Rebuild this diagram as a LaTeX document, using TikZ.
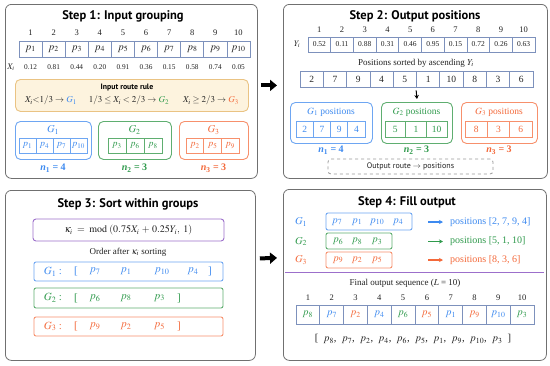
\documentclass[tikz,border=0pt]{standalone}
\usepackage{mathptmx}
\usepackage{fontspec}
\setmainfont{Liberation Serif}
\newfontfamily\titlefont{PT Sans}
\usetikzlibrary{arrows.meta,calc}
\definecolor{cblue}{HTML}{3D8AF0}
\definecolor{cgreen}{HTML}{2F9A4C}
\definecolor{corange}{HTML}{F4693A}
\definecolor{bblue}{HTML}{6EA6F2}
\definecolor{bgreen}{HTML}{5FAE70}
\definecolor{borange}{HTML}{F7906C}
\definecolor{cellc}{HTML}{7D91BC}
\definecolor{panelc}{HTML}{707070}
\definecolor{rulefill}{HTML}{FDF3DE}
\definecolor{ruledraw}{HTML}{EAC383}
\definecolor{cpurple}{HTML}{9C6FCB}
\definecolor{txt}{HTML}{222222}
\newcommand\rbox[5]{\node[#1, anchor=north west, minimum width=#4pt, minimum height=#5pt, inner sep=0pt] (#2) at (#3) {};}
\begin{document}
\begin{tikzpicture}[x=1pt,y=-1pt, text=txt,
  font=\fontsize{9.5}{10}\selectfont,
  panel/.style={draw=panelc, line width=0.8pt, rounded corners=6pt, fill=white},
  title/.style={font=\titlefont\bfseries\fontsize{12.5}{14}\selectfont, text=black},
  cell/.style={draw=cellc, line width=0.7pt, inner sep=0pt},
  idx/.style={font=\fontsize{8.5}{9}\selectfont, inner sep=0pt},
  val/.style={font=\fontsize{7.3}{8}\selectfont, inner sep=0pt},
  gbox/.style={draw=#1, line width=0.9pt, rounded corners=5pt, fill=white},
  nlab/.style={font=\fontsize{10}{11}\selectfont\bfseries, inner sep=0pt},
  rowbox/.style={draw=#1, line width=0.9pt, rounded corners=2pt, fill=white},
  bigarrow/.style={line width=4pt, -{Triangle[length=7pt,width=11pt]}},
  smarrow/.style={line width=1.2pt, -{Stealth[length=4pt,width=4pt]}, shorten >=7pt}
]
\useasboundingbox (0,0) rectangle (550,365);

% ---------------- Panel 1
\rbox{panel}{P1}{5,4}{252}{174}
\node[title] (T1) at (123,16) {Step 1: Input grouping};
\foreach \v [count=\i] in {0.12,0.81,0.44,0.20,0.91,0.36,0.15,0.58,0.74,0.05} {
  \node[cell, minimum width=23.1pt, minimum height=16pt, font=\fontsize{10.5}{11}\selectfont] (a\i) at ({19+(\i-0.5)*23.1},49) {$p_{\i}$};
  \node[idx] (ai\i) at (a\i |- 0,33) {\i};
  \node[val] (av\i) at (a\i |- 0,67) {\v};
}
\node[font=\fontsize{8.5}{9}\selectfont, inner sep=0pt] (xl) at (11,67) {$X_i$};
\rbox{fill=rulefill, draw=ruledraw, line width=0.9pt, rounded corners=5pt}{R}{15,79}{233}{32}
\node[font=\titlefont\bfseries\fontsize{7.8}{8}\selectfont, text=black] (rt) at (127,88) {Input route rule};
\node[font=\fontsize{9}{9}\selectfont] (r1) at (51,100.5) {$X_i{<}1/3 \rightarrow$ \textcolor{cblue}{$G_1$}};
\node[font=\fontsize{9}{9}\selectfont] (r2) at (129,100.5) {$1/3 \le X_i < 2/3 \rightarrow$ \textcolor{cgreen}{$G_2$}};
\node[font=\fontsize{9}{9}\selectfont] (r3) at (211,100.5) {$X_i \ge 2/3 \rightarrow$ \textcolor{corange}{$G_3$}};
% groups
\rbox{gbox=bblue}{GA}{15,121}{76}{38}
\rbox{gbox=bgreen}{GB}{98,121}{73}{38}
\rbox{gbox=borange}{GC}{179,121}{69}{38}
\node[text=cblue, font=\fontsize{10.5}{11}\selectfont] (GAl) at (53,130) {$G_1$};
\node[text=cgreen, font=\fontsize{10.5}{11}\selectfont] (GBl) at (134.5,130) {$G_2$};
\node[text=corange, font=\fontsize{10.5}{11}\selectfont] (GCl) at (213.5,130) {$G_3$};
\foreach \t [count=\i] in {1,4,7,10}
  \node[cell, draw=bblue, text=cblue, minimum width=17pt, minimum height=15pt] (ga\i) at ({19+(\i-0.5)*17},145.5) {$p_{\t}$};
\foreach \t [count=\i] in {3,6,8}
  \node[cell, draw=bgreen, text=cgreen, minimum width=18pt, minimum height=15pt] (gb\i) at ({108+(\i-0.5)*18},145.5) {$p_{\t}$};
\foreach \t [count=\i] in {2,5,9}
  \node[cell, draw=borange, text=corange, minimum width=17.7pt, minimum height=15pt] (gc\i) at ({186+(\i-0.5)*17.7},145.5) {$p_{\t}$};
\node[nlab, text=cblue] (na) at (53,168) {\textit{n}\textsubscript{1} = 4};
\node[nlab, text=cgreen] (nb) at (134.5,168) {\textit{n}\textsubscript{2} = 3};
\node[nlab, text=corange] (nc) at (213.5,168) {\textit{n}\textsubscript{3} = 3};

% ---------------- Panel 2
\rbox{panel}{P2}{283,4}{264}{174}
\node[title] (T2) at (415,16) {Step 2: Output positions};
\foreach \v [count=\i] in {0.52,0.11,0.88,0.31,0.46,0.95,0.15,0.72,0.26,0.63} {
  \node[cell, minimum width=22.7pt, minimum height=15pt, font=\fontsize{7.5}{8}\selectfont] (y\i) at ({308+(\i-0.5)*22.7},44.5) {\v};
  \node[idx] (yi\i) at (y\i |- 0,30) {\i};
}
\node[font=\fontsize{8.5}{9}\selectfont] (yl) at (297,44.5) {$Y_i$};
\node[font=\fontsize{9}{9}\selectfont] (sl) at (416,63) {Positions sorted by ascending $Y_i$};
\foreach \v [count=\i] in {2,7,9,4,5,1,10,8,3,6}
  \node[cell, minimum width=23.3pt, minimum height=16pt] (s\i) at ({300+(\i-0.5)*23.3},79) {\v};
\rbox{gbox=bblue}{HA}{290,102}{82}{41}
\rbox{gbox=bgreen}{HB}{381,102}{71}{41}
\rbox{gbox=borange}{HC}{461,102}{76}{41}
\draw[line width=1pt, -{Stealth[length=4pt,width=4.5pt]}] ([yshift=-3pt]s6.south west) -- ([yshift=3pt]HB.north);
\node[text=cblue, font=\fontsize{9.5}{10}\selectfont] (HAl) at (331,112) {$G_1$ positions};
\node[text=cgreen, font=\fontsize{9.5}{10}\selectfont] (HBl) at (416.5,112) {$G_2$ positions};
\node[text=corange, font=\fontsize{9.5}{10}\selectfont] (HCl) at (499,112) {$G_3$ positions};
\foreach \t [count=\i] in {2,7,9,4}
  \node[cell, draw=bblue, text=cblue, minimum width=17.25pt, minimum height=16pt] (ha\i) at ({296+(\i-0.5)*17.25},129) {\t};
\foreach \t [count=\i] in {5,1,10}
  \node[cell, draw=bgreen, text=cgreen, minimum width=20.67pt, minimum height=16pt] (hb\i) at ({385+(\i-0.5)*20.67},129) {\t};
\foreach \t [count=\i] in {8,3,6}
  \node[cell, draw=borange, text=corange, minimum width=22.33pt, minimum height=16pt] (hc\i) at ({465+(\i-0.5)*22.33},129) {\t};
\node[nlab, text=cblue] (ma) at (331,150) {\textit{n}\textsubscript{1} = 4};
\node[nlab, text=cgreen] (mb) at (416.5,150) {\textit{n}\textsubscript{2} = 3};
\node[nlab, text=corange] (mc) at (499,150) {\textit{n}\textsubscript{3} = 3};
\node[draw=gray!80, dashed, line width=0.8pt, rounded corners=3pt, minimum width=165pt, minimum height=15pt, inner sep=0pt, font=\titlefont\fontsize{8}{8}\selectfont] (OR) at (410.5,166.5) {Output route $\rightarrow$ positions};

% ---------------- Panel 3
\rbox{panel}{P3}{5,190}{250}{170}
\node[title] (T3) at (128,204) {Step 3: Sort within groups};
\node[draw=cpurple, line width=0.9pt, rounded corners=3pt, minimum width=191pt, minimum height=22pt, inner sep=0pt, font=\fontsize{10}{11}\selectfont] (K) at (128.5,230) {$\kappa_i\;=\;\mathrm{mod}\;(0.75X_i\,+\,0.25Y_i,\ 1)$};
\node[font=\fontsize{9}{9}\selectfont] (OL) at (128,252) {Order after $\kappa_i$ sorting};
\node[rowbox=bblue, minimum width=189pt, minimum height=19pt] (RA) at (128.5,271.5) {};
\node[rowbox=bgreen, minimum width=189pt, minimum height=20pt] (RB) at (128.5,298) {};
\node[rowbox=borange, minimum width=189pt, minimum height=19pt] (RC) at (128.5,326.5) {};
\begin{scope}[font=\fontsize{11}{12}\selectfont]
\node[text=cblue] (RAl) at (53,271.5) {$G_1:$};
\node[text=cblue] (RAo) at (76,271.5) {[};
\node[text=cblue] (RA1) at (95,271.5) {$p_7$};
\node[text=cblue] (RA2) at (126,271.5) {$p_1$};
\node[text=cblue] (RA3) at (162,271.5) {$p_{10}$};
\node[text=cblue] (RA4) at (193,271.5) {$p_4$};
\node[text=cblue] (RAc) at (210,271.5) {]};
\node[text=cgreen] (RBl) at (53,298) {$G_2:$};
\node[text=cgreen] (RBo) at (76,298) {[};
\node[text=cgreen] (RB1) at (95,298) {$p_6$};
\node[text=cgreen] (RB2) at (126,298) {$p_8$};
\node[text=cgreen] (RB3) at (159.5,298) {$p_3$};
\node[text=cgreen] (RBc) at (179,298) {]};
\node[text=corange] (RCl) at (53,326.5) {$G_3:$};
\node[text=corange] (RCo) at (76,326.5) {[};
\node[text=corange] (RC1) at (95,326.5) {$p_9$};
\node[text=corange] (RC2) at (126,326.5) {$p_2$};
\node[text=corange] (RC3) at (159.5,326.5) {$p_5$};
\node[text=corange] (RCc) at (179,326.5) {]};
\end{scope}

% ---------------- Panel 4
\rbox{panel}{P4}{283,189}{263}{171}
\node[title] (T4) at (407,202) {Step 4: Fill output};
\begin{scope}[font=\fontsize{10.5}{11}\selectfont]
\node[text=cblue] (QAl) at (301,222) {$G_1$};
\node[text=cgreen] (QBl) at (301,241.5) {$G_2$};
\node[text=corange] (QCl) at (301,260) {$G_3$};
\node[rowbox=bblue, minimum width=86pt, minimum height=17pt, fill=none] (QA) at (369,221.5) {};
\node[rowbox=bgreen, minimum width=66pt, minimum height=16pt, fill=none] (QB) at (359,241) {};
\node[rowbox=borange, minimum width=66pt, minimum height=16pt, fill=none] (QC) at (359,260) {};
\node[text=cblue] (qa1) at (337,222) {$p_7$};
\node[text=cblue] (qa2) at (357,222) {$p_1$};
\node[text=cblue] (qa3) at (377,222) {$p_{10}$};
\node[text=cblue] (qa4) at (398,222) {$p_4$};
\node[text=cgreen] (qb1) at (338,241.5) {$p_6$};
\node[text=cgreen] (qb2) at (357,241.5) {$p_8$};
\node[text=cgreen] (qb3) at (377,241.5) {$p_3$};
\node[text=corange] (qc1) at (338,260) {$p_9$};
\node[text=corange] (qc2) at (357,260) {$p_2$};
\node[text=corange] (qc3) at (377,260) {$p_5$};
\end{scope}
\begin{scope}[font=\fontsize{10}{11}\selectfont]
\node[text=cblue, anchor=west, inner sep=0pt] (pa) at (450,222) {positions [2, 7, 9, 4]};
\node[text=cgreen, anchor=west, inner sep=0pt] (pb) at (450,241.5) {positions [5, 1, 10]};
\node[text=corange, anchor=west, inner sep=0pt] (pc) at (450,260) {positions [8, 3, 6]};
\end{scope}
\coordinate (aa) at (428,222);
\coordinate (ab) at (428,241.5);
\coordinate (ac) at (428,260);
\draw[smarrow, cblue] (aa) -- (pa.west);
\draw[smarrow, cgreen] (ab) -- (pb.west);
\draw[smarrow, corange] (ac) -- (pc.west);
\coordinate (L1) at (285,272);
\coordinate (L2) at (544,272);
\draw[cpurple, line width=0.9pt] (L1) -- (L2);
\node[font=\fontsize{9}{9}\selectfont] (FL) at (405,283) {Final output sequence ($L$ = 10)};
\foreach \c/\t [count=\i] in {cgreen/8,cblue/7,corange/2,cblue/4,cgreen/6,corange/5,cblue/1,corange/9,cblue/10,cgreen/3} {
  \node[cell, minimum width=23.8pt, minimum height=19pt, text=\c, font=\fontsize{10.5}{11}\selectfont] (f\i) at ({296+(\i-0.5)*23.8},314.5) {$p_{\t}$};
  \node[idx] (fi\i) at (f\i |- 0,298) {\i};
}
\node[font=\fontsize{10.5}{11}\selectfont] (FS) at (413,339) {[\ \ $p_8$,\ \ $p_7$,\ \ $p_2$,\ \ $p_4$,\ \ $p_6$,\ \ $p_5$,\ \ $p_1$,\ \ $p_9$,\ \ $p_{10}$,\ \ $p_3$\ \ ]};

% ---------------- big arrows
\draw[bigarrow] ([xshift=3pt, yshift=6pt]P1.east) -- ([xshift=-6pt, yshift=6pt]P2.west);
\draw[bigarrow] ([xshift=4pt, yshift=17pt]P3.east) -- ([xshift=-6pt, yshift=17pt]P4.west);
\end{tikzpicture}
\end{document}
